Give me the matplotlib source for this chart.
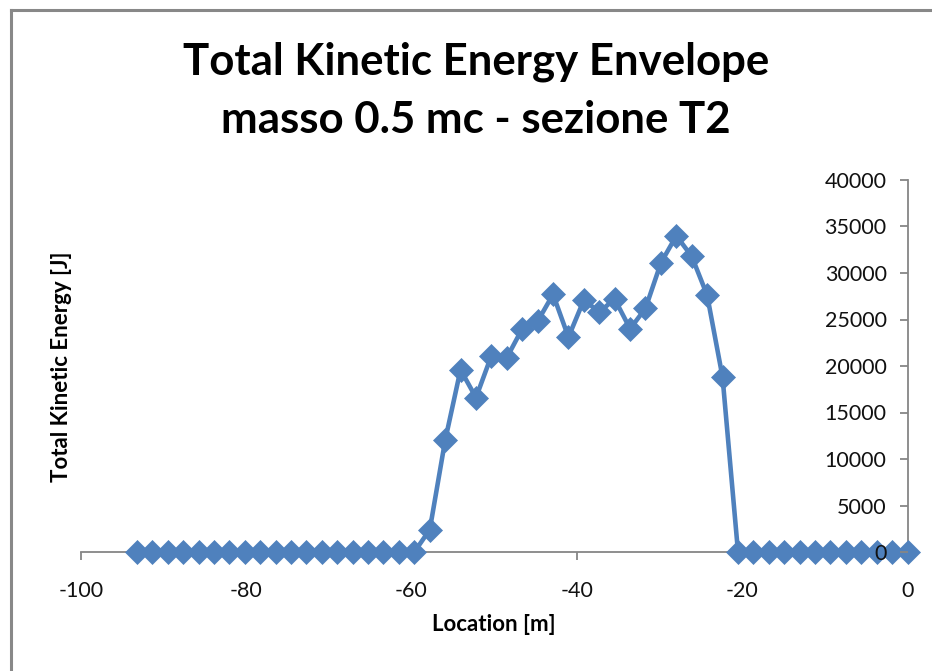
import matplotlib
matplotlib.use("Agg")
import matplotlib.pyplot as plt
from matplotlib.lines import Line2D

# Envelope of total kinetic energy along the section
location = [0.0, -1.86, -3.73, -5.59, -7.46, -9.32, -11.18, -13.05, -14.91, -16.78,
            -18.64, -20.50, -22.37, -24.23, -26.10, -27.96, -29.82, -31.69, -33.55,
            -35.42, -37.28, -39.14, -41.01, -42.87, -44.74, -46.60, -48.46, -50.33,
            -52.19, -54.06, -55.92, -57.78, -59.65, -61.51, -63.38, -65.24, -67.10,
            -68.97, -70.83, -72.70, -74.56, -76.42, -78.29, -80.15, -82.02, -83.88,
            -85.74, -87.61, -89.47, -91.34, -93.20]
energy = [0, 0, 0, 0, 0, 0, 0, 0, 0, 0,
          0, 0, 18800, 27600, 31800, 34000, 31100, 26200, 24000,
          27200, 25800, 27100, 23100, 27700, 24800, 24000, 20900, 21100,
          16600, 19600, 12000, 2400, 0, 0, 0, 0, 0,
          0, 0, 0, 0, 0, 0, 0, 0, 0,
          0, 0, 0, 0, 0]

x_ticks = [-100, -80, -60, -40, -20, 0]
y_ticks = [0, 5000, 10000, 15000, 20000, 25000, 30000, 35000, 40000]

W, H = 932, 671
plt.rcParams['font.family'] = ['Lato', 'DejaVu Sans']
plt.rcParams['axes.unicode_minus'] = False
fig = plt.figure(figsize=(W / 100, H / 100), dpi=100)

ax = fig.add_axes([80.7 / W, 1 - 552 / H, (907.5 - 80.7) / W, (552 - 180) / H])

ax.plot(location, energy, color='#4F81BD', lw=3.3, marker='D', ms=12,
        markeredgecolor='#4F81BD', markeredgewidth=0.5, zorder=3, clip_on=False)

ax.set_xlim(-100, 0)
ax.set_ylim(0, 40000)
ax.set_xticks(x_ticks)
ax.set_yticks(y_ticks)

# value axis crosses the category axis at x = 0
ax.spines['left'].set_position(('data', 0))
ax.spines['right'].set_visible(False)
ax.spines['top'].set_visible(False)
for s in ('left', 'bottom'):
    ax.spines[s].set_color('#868686')
    ax.spines[s].set_linewidth(1.3)
ax.tick_params(axis='both', direction='out', length=6, width=1.3, color='#868686',
               labelsize=15.5, labelcolor='#111111')
ax.tick_params(axis='x', pad=15)
ax.tick_params(axis='y', pad=9)
# tick labels sit on top of the series markers
ax.yaxis.set_zorder(5)

ax.set_xlabel('Location [m]', fontsize=16, fontweight='bold', labelpad=9)
fig.text(62 / W, 1 - 367 / H, 'Total Kinetic Energy [J]', rotation=90,
         fontsize=16, fontweight='bold', ha='center', va='center')

fig.text(476 / W, 1 - 62 / H, 'Total Kinetic Energy Envelope', fontsize=31.5,
         fontweight='bold', ha='center', va='center')
fig.text(476 / W, 1 - 120 / H, 'masso 0.5 mc - sezione T2', fontsize=31.5,
         fontweight='bold', ha='center', va='center')

# chart area frame (top and left edges)
fig.add_artist(Line2D([10.5 / W, 1], [1 - 9.5 / H, 1 - 9.5 / H], color='#888888', lw=2.2))
fig.add_artist(Line2D([10.5 / W, 10.5 / W], [0, 1 - 9.5 / H], color='#888888', lw=2.2))

fig.savefig('out.png', dpi=100)
